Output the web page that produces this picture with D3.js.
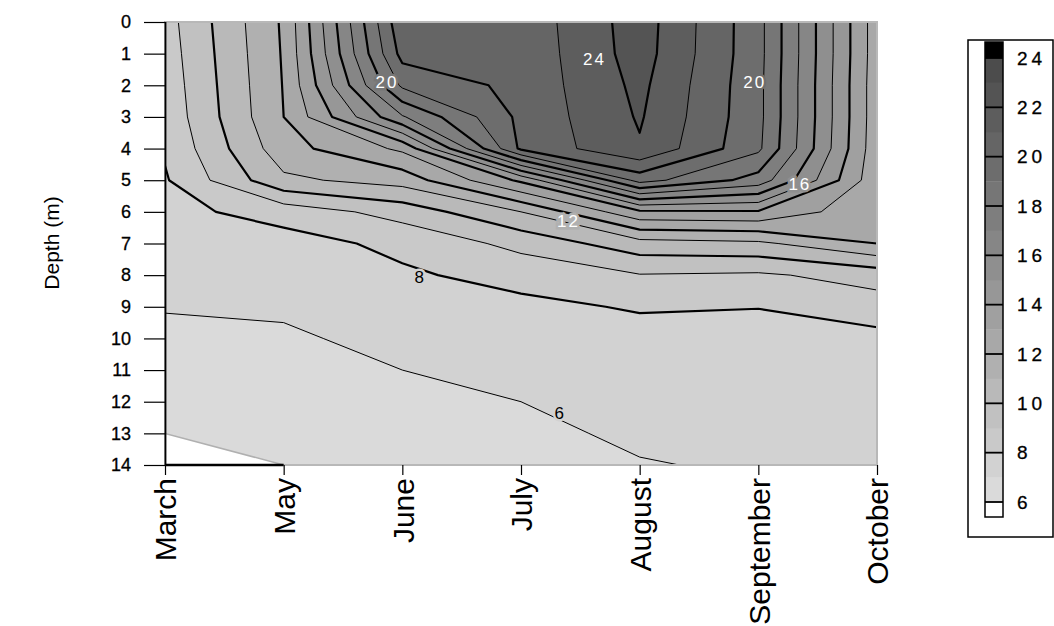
<!DOCTYPE html>
<html><head><meta charset="utf-8">
<script src="https://cdn.jsdelivr.net/npm/d3@7"></script>
<style>
body{margin:0;background:#fff;}
text{font-family:Arial,"Liberation Sans",sans-serif;}
</style>
</head><body>
<svg id="c" width="1054" height="626"></svg>
<script>
// ---- data ----
const months = ["March","May","June","July","August","September","October"];
const depths = [0,1,2,3,4,5,6,7,8,9,10,11,12,13,14];
// temperature (°C) per month, depth 0..14 m
const tempMarch     = [8.6, 8.5, 8.4, 8.3, 8.12, 7.9, 7.7, 7.5, 7.3, 7.05, 6.8, 6.55, 6.3, 6.0, 5.7];
const tempMay       = [12.15, 12.1, 12.05, 12.0, 11.6, 10.8, 8.4, 7.6, 7.4, 7.15, 6.85, 6.65, 6.45, 6.2, 6.0];
const tempJune      = [20.8, 20.35, 19.2, 16.9, 13.2, 11.4, 9.4, 8.25, 7.85, 7.6, 7.3, 7.0, 6.75, 6.5, 6.25];
const tempJuly      = [20.35, 20.3, 20.3, 20.25, 20.2, 14.2, 11.0, 9.3, 8.35, 7.75, 7.5, 7.25, 7.0, 6.8, 6.6];
const tempAugust    = [22.5, 22.45, 22.25, 22.1, 21.9, 19.4, 13.8, 10.6, 8.95, 8.1, 7.6, 7.45, 7.3, 7.15, 6.95];
const tempSeptember = [19.35, 19.35, 19.3, 19.3, 19.2, 17.6, 13.9, 10.8, 8.85, 8.02, 7.7, 7.5, 7.35, 7.2, 7.1];
const tempOctober   = [12.45, 12.45, 12.4, 12.4, 12.35, 12.3, 12.2, 12.0, 9.4, 8.55, 7.7, 7.55, 7.4, 7.3, 7.2];
const levels = [6,7,8,9,10,11,12,13,14,15,16,17,18,19,20,21,22,23,24];
const legendTicks = [6,8,10,12,14,16,18,20,22,24];
// contour labels: text, month position (index), depth (m)
const labelText  = ["20","24","20","16","12","8","6"];
const labelMonth = [1.87, 3.62, 4.97, 5.35, 3.40, 2.15, 3.33];
const labelDepth = [1.90, 1.20, 1.90, 5.15, 6.32, 8.09, 12.36];

// ---- layout ----
const svg = d3.select("#c");
const P = {x0:165, x1:877, y0:22, y1:465};
const xIdx = d3.scaleLinear().domain([0, months.length-1]).range([P.x0, P.x1]);
const xPt = d3.scalePoint().domain(months).range([P.x0, P.x1]);
const y = d3.scaleLinear().domain([0, 14]).range([P.y0, P.y1]);

const cols = [tempMarch,tempMay,tempJune,tempJuly,tempAugust,tempSeptember,tempOctober];
const nx = cols.length, ny = depths.length;
const values = [];
for (let j=0;j<ny;j++) for (let i=0;i<nx;i++) values.push(cols[i][j]);

const grayOf = d3.scaleLinear().domain([6,23]).range([218,76]);
function bandColor(t){
  if (t < 6) return "#ffffff";
  if (t >= 24) return "#000000";
  const v = Math.round(grayOf(Math.floor(t)));
  return `rgb(${v},${v},${v})`;
}

svg.append("defs").append("clipPath").attr("id","clip")
  .append("rect").attr("x",P.x0).attr("y",P.y0).attr("width",P.x1-P.x0).attr("height",P.y1-P.y0);

const contours = d3.contours().size([nx, ny]).thresholds(levels)(values);
const proj = d3.geoTransform({point(px,py){ this.stream.point(xIdx(px-0.5), y(py-0.5)); }});
const path = d3.geoPath(proj);

const g = svg.append("g").attr("clip-path","url(#clip)");
g.append("rect").attr("x",P.x0).attr("y",P.y0).attr("width",P.x1-P.x0).attr("height",P.y1-P.y0).attr("fill","#fff");
g.selectAll("path.fill").data(contours).join("path").attr("class","fill")
  .attr("d", path).attr("fill", d => bandColor(d.value)).attr("stroke","none");
g.selectAll("path.line").data(contours).join("path").attr("class","line")
  .attr("d", path).attr("fill","none")
  .attr("stroke", d => d.value === 6 ? "#b0b0b0" : "#000")
  .attr("stroke-width", d => d.value === 6 ? 1.5 : (d.value % 2 === 0 ? 2.2 : 1))
  .attr("stroke-linejoin","round");

// frame
svg.append("rect").attr("x",P.x0).attr("y",P.y0).attr("width",P.x1-P.x0).attr("height",P.y1-P.y0)
  .attr("fill","none").attr("stroke","#b8b8b8").attr("stroke-width",2);
svg.append("line").attr("x1",P.x0+0.5).attr("x2",P.x0+0.5).attr("y1",P.y0).attr("y2",P.y1)
  .attr("stroke","#000").attr("stroke-width",1.8);
svg.append("line").attr("x1",xPt("March")).attr("x2",xPt("May")).attr("y1",P.y1).attr("y2",P.y1)
  .attr("stroke","#000").attr("stroke-width",2.5);

// bilinear sample for label halos
function sample(mi, dj){
  const i0 = Math.max(0,Math.min(nx-2,Math.floor(mi))), j0 = Math.max(0,Math.min(ny-2,Math.floor(dj)));
  const fx = mi-i0, fy = dj-j0;
  const v00=cols[i0][j0], v10=cols[i0+1][j0], v01=cols[i0][j0+1], v11=cols[i0+1][j0+1];
  return v00*(1-fx)*(1-fy)+v10*fx*(1-fy)+v01*(1-fx)*fy+v11*fx*fy;
}
labelText.forEach((t,k)=>{
  const bg = bandColor(sample(labelMonth[k], labelDepth[k]));
  svg.append("text").attr("x", xIdx(labelMonth[k])).attr("y", y(labelDepth[k]))
    .attr("text-anchor","middle").attr("dominant-baseline","central")
    .attr("font-size",17).attr("letter-spacing",2)
    .attr("fill", +t >= 10 ? "#fff" : "#000")
    .attr("stroke", bg).attr("stroke-width",5).attr("paint-order","stroke")
    .text(t);
});

// axes
const ay = svg.append("g").attr("transform",`translate(${P.x0},0)`)
  .call(d3.axisLeft(y).tickValues(depths).tickSize(21).tickPadding(13).tickFormat(d3.format("d")));
ay.select(".domain").remove();
ay.selectAll("line").attr("stroke","#000").attr("stroke-width",1.2);
ay.selectAll("text").attr("font-size",18).attr("fill","#000").attr("stroke","#000").attr("stroke-width",0.3)
  .style("font-family","Arial,'Liberation Sans',sans-serif");

const ax = svg.append("g").attr("transform",`translate(0,${P.y1})`)
  .call(d3.axisBottom(xPt).tickSize(10).tickSizeOuter(0));
ax.select(".domain").remove();
ax.selectAll("line").attr("stroke","#000").attr("stroke-width",1.2);
ax.selectAll("text").attr("transform","rotate(-90)").attr("x",-13).attr("y",0).attr("dy","0.36em")
  .style("text-anchor","end").attr("font-size",30).attr("fill","#000")
  .style("font-family","Arial,'Liberation Sans',sans-serif");

svg.append("text").attr("transform","translate(59,243) rotate(-90)").attr("text-anchor","middle")
  .attr("font-size",21).text("Depth (m)");

// legend
const L = {x:968, y:40, w:85, h:497, bx:985, bw:18};
svg.append("rect").attr("x",L.x).attr("y",L.y).attr("width",L.w).attr("height",L.h)
  .attr("fill","#fff").attr("stroke","#000").attr("stroke-width",1.5);
const ly = d3.scaleLinear().domain([6,24]).range([502,58]);
const bandH = ly(6)-ly(7);
const lg = svg.append("g");
lg.append("rect").attr("x",L.bx).attr("y",ly(24)-16).attr("width",L.bw).attr("height",16).attr("fill","#000");
lg.append("rect").attr("x",L.bx).attr("y",ly(6)).attr("width",L.bw).attr("height",15).attr("fill","#fff");
lg.selectAll("rect.band").data(levels.slice(0,-1)).join("rect").attr("class","band")
  .attr("x",L.bx).attr("y",d=>ly(d+1)).attr("width",L.bw).attr("height",bandH+0.3)
  .attr("fill",d=>bandColor(d));
lg.append("rect").attr("x",L.bx).attr("y",ly(24)-16).attr("width",L.bw).attr("height",ly(6)+15-(ly(24)-16))
  .attr("fill","none").attr("stroke","#000").attr("stroke-width",1.5);
lg.selectAll("line.tk").data(legendTicks).join("line").attr("class","tk")
  .attr("x1",L.bx).attr("x2",L.bx+L.bw).attr("y1",d=>ly(d)).attr("y2",d=>ly(d))
  .attr("stroke","#000").attr("stroke-width",1.8);
lg.selectAll("text").data(legendTicks).join("text")
  .attr("x",1017).attr("y",d=>ly(d)).attr("dominant-baseline","central")
  .attr("font-size",19).attr("letter-spacing",4).attr("fill","#000")
  .attr("stroke","#000").attr("stroke-width",0.3).text(d=>d);
</script>
</body></html>
